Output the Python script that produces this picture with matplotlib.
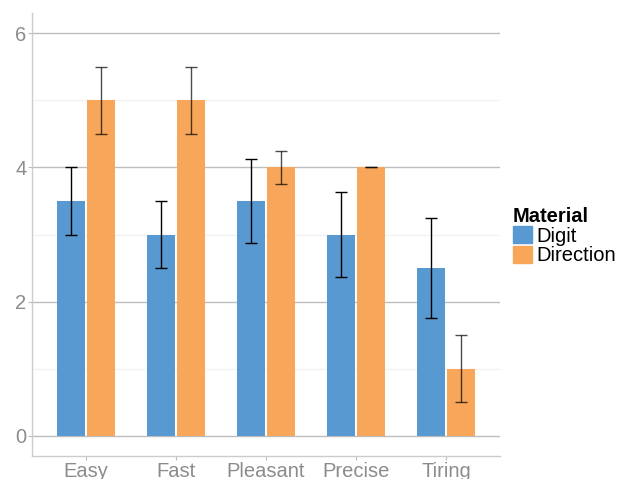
import numpy as np
import matplotlib
matplotlib.use("Agg")
import matplotlib.pyplot as plt
from matplotlib.patches import Patch

plt.rcParams["font.family"] = ["Liberation Sans", "DejaVu Sans"]

categories = ["Easy", "Fast", "Pleasant", "Precise", "Tiring"]
digit_mean = [3.5, 3.0, 3.5, 3.0, 2.5]
digit_err = [0.5, 0.5, 0.63, 0.63, 0.75]
direction_mean = [5.0, 5.0, 4.0, 4.0, 1.0]
direction_err = [0.5, 0.5, 0.25, 0.0, 0.5]

blue = "#5899d2"
orange = "#f8a65a"
grey = "#8c8c8c"

fig = plt.figure(figsize=(6.2, 4.79), dpi=100)
ax = fig.add_axes([32 / 620, 1 - 456 / 479, 468 / 620, 443 / 479])

x = np.arange(len(categories))
w = 0.31
off = 0.17

ax.bar(x - off, digit_mean, w, color=blue, zorder=2)
ax.bar(x + off, direction_mean, w, color=orange, zorder=2)
ax.errorbar(x - off, digit_mean, yerr=digit_err, fmt="none", ecolor="black",
            elinewidth=1, capsize=4, capthick=1, zorder=3)
ax.errorbar(x + off, direction_mean, yerr=direction_err, fmt="none", ecolor="black",
            elinewidth=1, capsize=4, capthick=1, zorder=3, alpha=0.7)

ax.set_xlim(-0.6, 4.6)
ax.set_ylim(-0.3, 6.3)
ax.set_xticks(x)
ax.set_xticklabels(categories)
ax.set_yticks([0, 2, 4, 6])
ax.set_yticks([1, 3, 5], minor=True)
ax.grid(which="major", axis="y", color="#bdbdbd", lw=1, zorder=0)
ax.grid(which="minor", axis="y", color="#f2f2f2", lw=1, zorder=0)
ax.set_axisbelow(True)

for s in ["top", "right"]:
    ax.spines[s].set_visible(False)
for s in ["left", "bottom"]:
    ax.spines[s].set_color("#cccccc")
    ax.spines[s].set_linewidth(1)

ax.tick_params(axis="both", which="major", colors="#bdbdbd", length=3,
               labelcolor=grey, labelsize=14.5, pad=1)
ax.tick_params(axis="y", which="minor", length=0)

handles = [Patch(color=blue, label="Digit"), Patch(color=orange, label="Direction")]
leg = fig.legend(handles=handles, title="Material", loc="upper left",
                 bbox_to_anchor=(499 / 620, 1 - 193 / 479), frameon=False,
                 fontsize=14.5, title_fontsize=14.5, handlelength=0.95, handleheight=0.95,
                 handletextpad=0.2, labelspacing=0.0, borderpad=0.2)
leg.get_title().set_fontweight("bold")
leg._legend_box.align = "left"

fig.savefig("out.png", dpi=100)
